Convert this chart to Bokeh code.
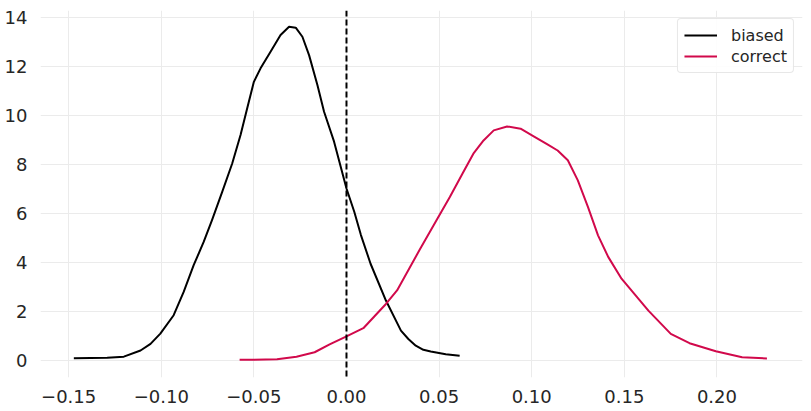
from bokeh.plotting import figure
from bokeh.models import FixedTicker, Span, Legend, LegendItem, Range1d
from bokeh.embed import file_html
from bokeh.resources import INLINE

biased_x = [-0.1472, -0.1292, -0.1202, -0.1112, -0.1058, -0.1005, -0.0933, -0.0879, -0.0825,
            -0.0771, -0.0726, -0.0671, -0.0617, -0.0572, -0.0536, -0.0500, -0.0464, -0.0410,
            -0.0356, -0.0310, -0.0274, -0.0238, -0.0202, -0.0157, -0.0121, -0.0067, 0.0,
            0.0042, 0.0078, 0.0130, 0.0213, 0.0294, 0.0334, 0.0374, 0.0415, 0.0455, 0.0536,
            0.0611]
biased_y = [0.10, 0.12, 0.16, 0.41, 0.68, 1.10, 1.85, 2.80, 3.89,
            4.84, 5.73, 6.88, 8.04, 9.20, 10.29, 11.37, 11.92, 12.60,
            13.28, 13.62, 13.58, 13.21, 12.46, 11.24, 10.15, 8.93, 7.02,
            6.07, 5.12, 3.95, 2.45, 1.22, 0.88, 0.61, 0.44, 0.37, 0.26,
            0.20]

correct_x = [-0.0577, -0.0375, -0.0270, -0.0172, -0.0091, 0.0, 0.0091, 0.0213, 0.0273, 0.0395,
             0.0486, 0.0558, 0.0631, 0.0685, 0.0740, 0.0795, 0.0867, 0.0940, 0.1013, 0.1085,
             0.1140, 0.1195, 0.1249, 0.1304, 0.1358, 0.1413, 0.1485, 0.1630, 0.1751, 0.1852,
             0.1994, 0.2136, 0.2270]
correct_y = [0.03, 0.05, 0.16, 0.34, 0.66, 0.99, 1.32, 2.31, 2.86, 4.52,
             5.72, 6.67, 7.69, 8.44, 8.98, 9.39, 9.55, 9.46, 9.14, 8.82,
             8.57, 8.17, 7.35, 6.26, 5.11, 4.23, 3.34, 2.04, 1.09, 0.71,
             0.38, 0.14, 0.09]

x_ticks = [-0.15, -0.10, -0.05, 0.00, 0.05, 0.10, 0.15, 0.20]
x_tick_labels = ["\u22120.15", "\u22120.10", "\u22120.05", "0.00", "0.05", "0.10", "0.15", "0.20"]
y_ticks = [0, 2, 4, 6, 8, 10, 12, 14]
y_tick_labels = ["0", "2", "4", "6", "8", "10", "12", "14"]
series_names = ["biased", "correct"]
series_colors = ["#000000", "#d1094b"]

p = figure(width=803, height=407, output_backend="svg", toolbar_location=None,
           x_range=Range1d(-0.1652, 0.2462), y_range=Range1d(-0.69, 14.28),
           min_border_left=40, min_border_right=1, min_border_top=10, min_border_bottom=30)
p.outline_line_color = None
p.background_fill_color = "white"

for ax in (p.xaxis[0], p.yaxis[0]):
    ax.axis_line_color = None
    ax.major_tick_line_color = None
    ax.minor_tick_line_color = None
    ax.major_label_text_font = "DejaVu Sans"
    ax.major_label_text_font_size = "18px"
    ax.major_label_text_color = "#262626"

p.xaxis.ticker = FixedTicker(ticks=x_ticks)
p.xaxis.major_label_overrides = {t: l for t, l in zip(x_ticks, x_tick_labels)}
p.yaxis.ticker = FixedTicker(ticks=y_ticks)
p.yaxis.major_label_overrides = {t: l for t, l in zip(y_ticks, y_tick_labels)}
p.xaxis.major_label_standoff = 6
p.yaxis.major_label_standoff = 7

p.xgrid.ticker = FixedTicker(ticks=x_ticks)
p.ygrid.ticker = FixedTicker(ticks=y_ticks)
p.grid.grid_line_color = "#ebebeb"
p.grid.grid_line_width = 1

r1 = p.line(biased_x, biased_y, line_color=series_colors[0], line_width=2, line_join="round")
r2 = p.line(correct_x, correct_y, line_color=series_colors[1], line_width=2, line_join="round")

p.add_layout(Span(location=0, dimension="height", line_color="black",
                  line_dash="6 3", line_width=2))

legend = Legend(items=[LegendItem(label=series_names[0], renderers=[r1]),
                       LegendItem(label=series_names[1], renderers=[r2])],
                location="top_right")
legend.label_text_font = "DejaVu Sans"
legend.label_text_font_size = "16px"
legend.label_text_color = "#262626"
legend.border_line_color = "#d0d0d0"
legend.border_radius = 4
legend.glyph_width = 33
legend.glyph_height = 20
legend.label_height = 20
legend.label_standoff = 14
legend.spacing = 1
legend.padding = 6
legend.margin = 8
legend.background_fill_alpha = 0.9
p.add_layout(legend)

open("out.html", "w").write(file_html(p, INLINE))
